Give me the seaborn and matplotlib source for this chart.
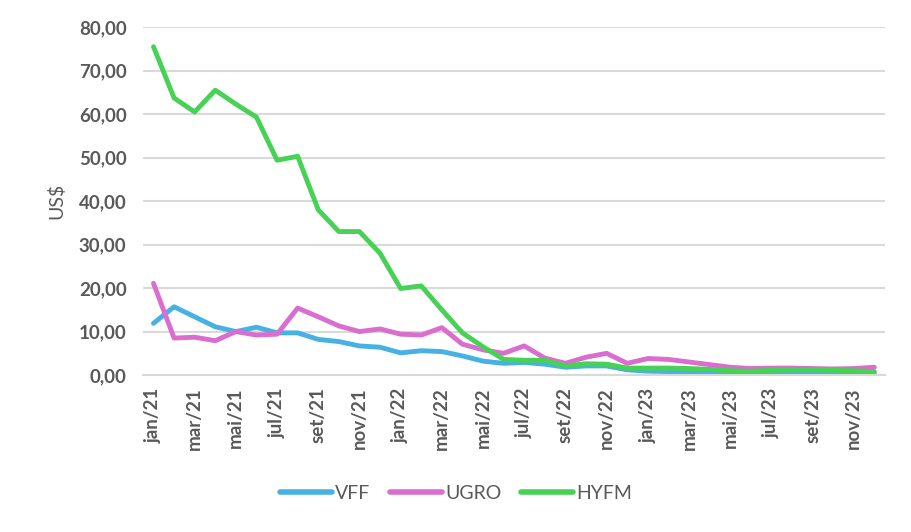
import pandas as pd
import numpy as np
from matplotlib import pyplot as plt
from matplotlib.ticker import FixedLocator
import seaborn as sns

months = ["jan", "fev", "mar", "abr", "mai", "jun", "jul", "ago", "set", "out", "nov", "dez"]
periods = [m + "/" + y for y in ["21", "22", "23"] for m in months]

vff = [11.9, 15.7, 13.4, 11.1, 10.0, 11.0, 9.7, 9.7, 8.2, 7.7, 6.7, 6.4,
       5.1, 5.6, 5.4, 4.4, 3.2, 2.7, 2.9, 2.5, 1.8, 2.1, 2.1, 1.2,
       0.9, 0.8, 0.7, 0.5, 0.4, 0.4, 0.5, 0.5, 0.5, 0.4, 0.4, 0.4]
ugro = [21.1, 8.5, 8.7, 7.9, 10.0, 9.2, 9.4, 15.4, 13.4, 11.3, 10.0, 10.6,
        9.4, 9.2, 10.9, 7.1, 5.8, 5.0, 6.7, 3.9, 2.7, 4.1, 5.0, 2.7,
        3.8, 3.6, 3.0, 2.4, 1.8, 1.5, 1.6, 1.6, 1.5, 1.4, 1.5, 1.8]
hyfm = [75.5, 63.7, 60.5, 65.5, 62.3, 59.3, 49.4, 50.3, 38.0, 33.0, 33.0, 28.0,
        19.9, 20.5, 15.0, 9.7, 6.5, 3.6, 3.4, 3.4, 2.1, 2.6, 2.5, 1.6,
        1.6, 1.6, 1.5, 1.3, 1.0, 0.9, 1.1, 1.2, 1.2, 1.1, 1.0, 0.8]
y_ticks = [0, 10, 20, 30, 40, 50, 60, 70, 80]

series = {"VFF": vff, "UGRO": ugro, "HYFM": hyfm}
colors = {"VFF": "#47b1e2", "UGRO": "#d96ecf", "HYFM": "#47d155"}


def main():
    sns.set_style("white")
    plt.rcParams["font.family"] = ["Lato", "DejaVu Sans"]
    grey = "#595959"

    rows = []
    for name, vals in series.items():
        for i, v in enumerate(vals):
            rows.append({"idx": i, "valor": v, "serie": name})
    df = pd.DataFrame(rows)

    fig = plt.figure(figsize=(9.12, 5.32), dpi=100)
    ax = fig.add_axes([0.157, 0.295, 0.813, 0.654])

    sns.lineplot(data=df, x="idx", y="valor", hue="serie", palette=colors,
                 linewidth=3.5, ax=ax, legend=True)

    ax.set_xlim(-0.5, len(periods) - 0.5)
    ax.set_ylim(0, 80)
    ax.set_yticks(y_ticks, labels=[f"{v:.2f}".replace(".", ",") for v in y_ticks],
                  fontweight="bold", fontsize=13.5, color=grey)
    ax.yaxis.grid(True, color="#d9d9d9", linewidth=1.5)
    ax.set_axisbelow(True)

    label_pos = list(range(0, len(periods), 2))
    ax.set_xticks(label_pos, labels=[periods[i] for i in label_pos], rotation=90,
                  fontweight="bold", fontsize=13.5, color=grey)
    ax.xaxis.set_minor_locator(FixedLocator(np.arange(-0.5, len(periods), 2)))
    ax.tick_params(axis="x", which="major", length=0, pad=9)
    ax.tick_params(axis="x", which="minor", length=6, width=1.5, color="#d9d9d9")
    ax.tick_params(axis="y", length=0, pad=12)

    for s in ["top", "right", "left"]:
        ax.spines[s].set_visible(False)
    ax.spines["bottom"].set_color("#d9d9d9")
    ax.spines["bottom"].set_linewidth(1.5)

    ax.set_xlabel("")
    ax.set_ylabel("US$", fontsize=14, color=grey, labelpad=10)

    handles, labels = ax.get_legend_handles_labels()
    ax.legend_.remove()
    leg = fig.legend(handles, labels, loc="center", bbox_to_anchor=(0.5, 0.073),
                     ncol=3, frameon=False, fontsize=14, handlelength=2.7,
                     handletextpad=0.15, columnspacing=1.0)
    for t in leg.get_texts():
        t.set_color(grey)
    for l in leg.get_lines():
        l.set_linewidth(4)
        l.set_solid_capstyle("round")

    fig.savefig("out.png", dpi=100)


if __name__ == "__main__":
    main()
